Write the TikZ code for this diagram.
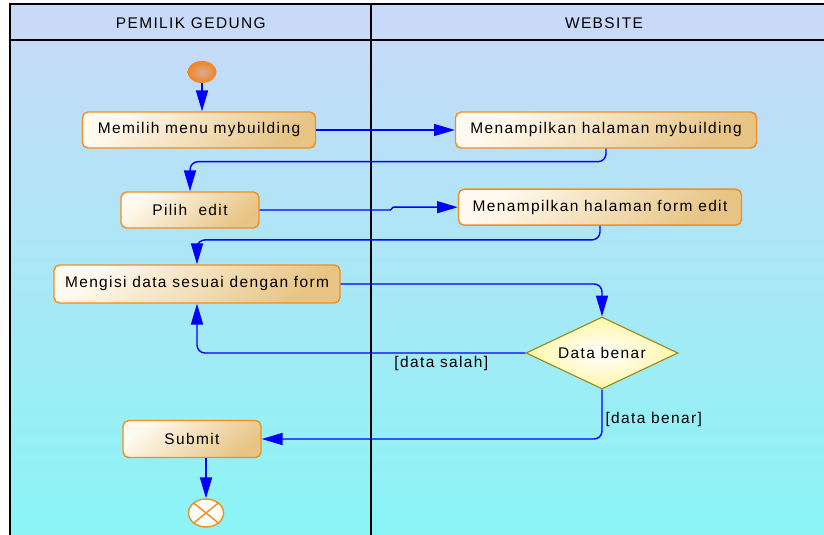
\documentclass[tikz,border=0pt]{standalone}
\usepackage{fontspec}
\setmainfont{Liberation Sans}[LetterSpace=9]
\usepackage{xcolor}
\usepackage{tikz}
\usetikzlibrary{shapes,arrows.meta}
\definecolor{laneHead}{HTML}{C8DAF8}
\definecolor{laneTop}{HTML}{C5DBF7}
\definecolor{laneBottom}{HTML}{8AF5F6}
\definecolor{actBorder}{HTML}{F58D1C}
\definecolor{actLight}{HTML}{FFFAF0}
\definecolor{actDark}{HTML}{E7C484}
\definecolor{startIn}{HTML}{D6AC9C}
\definecolor{startOut}{HTML}{F5841A}
\definecolor{decBorder}{HTML}{9A8A12}
\definecolor{decFill}{HTML}{FFF6A8}
\definecolor{flow}{HTML}{0000FF}
\tikzstyle{action} = [rectangle, draw=actBorder, line width=1pt, rounded corners=4pt,
    top color=actLight, bottom color=actDark, shading angle=40, text centered, minimum height=0.9cm]
\tikzstyle{decision} = [diamond, aspect=2.1, draw=decBorder, line width=0.8pt, inner color=white, outer color=decFill,
    minimum width=3.8cm, minimum height=1.8cm, inner sep=0pt]
\tikzstyle{initial} = [ellipse, inner color=startIn, outer color=startOut, minimum width=0.725cm, minimum height=0.55cm, inner sep=0pt]
\tikzstyle{final} = [ellipse, draw=actBorder, line width=1pt, fill=white, minimum width=0.875cm, minimum height=0.7cm, inner sep=0pt]
\tikzstyle{line} = [draw=flow, line width=1pt, rounded corners=0.2cm, -{Triangle[length=0.52cm, width=0.3cm]}]
\tikzstyle{guard} = [inner sep=2pt]

\begin{document}
\begin{tikzpicture}[node distance = 2cm, font=\fontsize{11}{13}\selectfont]
    \clip (0,0) rectangle (20.6,-13.375);
    % Swimlanes
    \fill [laneHead] (0.25,-0.1) rectangle (21,-1.0);
    \shade [top color=laneTop, bottom color=laneBottom] (0.25,-1.0) rectangle (21,-13.5);
    \draw [line width=1pt] (21,-0.1) -- (0.25,-0.1) -- (0.25,-13.5);
    \draw [line width=1pt] (0.25,-1.0) -- (21,-1.0);
    \draw [line width=1pt] (9.275,-0.1) -- (9.275,-13.5);
    \node (ownerLane) at (4.77,-0.57) {PEMILIK GEDUNG};
    \node (webLane) at (15.1,-0.57) {WEBSITE};

    % Place nodes
    \node [initial] (start) at (5.05,-1.8) {};
    \node [action, below of=start, node distance=1.45cm, xshift=-0.075cm, minimum width=5.825cm] (memilih) {Memilih menu mybuilding};
    \node [action, right of=memilih, node distance=10.175cm, minimum width=7.525cm] (tampilBuilding) {Menampilkan halaman mybuilding};
    \node [action, below of=memilih, node distance=2cm, xshift=-0.225cm, minimum width=3.45cm] (pilih) {Pilih\ \ edit};
    \node [action, right of=pilih, node distance=10.25cm, yshift=0.07cm, minimum width=7.075cm] (tampilForm) {Menampilkan halaman form edit};
    \node [action, below of=pilih, node distance=1.85cm, xshift=0.175cm, minimum width=7.15cm, minimum height=0.95cm] (mengisi) {Mengisi data sesuai dengan form};
    \node [decision, right of=mengisi, node distance=10.125cm, yshift=-1.725cm] (cek) {Data benar};
    \node [action, below of=mengisi, node distance=3.875cm, xshift=-0.125cm, minimum width=3.45cm, minimum height=0.925cm] (submit) {Submit};
    \node [final, below of=submit, node distance=1.85cm, xshift=0.35cm] (end) {};
    \draw [actBorder, line width=1pt] (end.north east) -- (end.south west) (end.north west) -- (end.south east);

    % Draw edges
    \path [line] (start) -- (start |- memilih.north);
    \path [line] (memilih) -- (tampilBuilding);
    \path [line] (tampilBuilding.south) -- ++(0,-0.325) -| (pilih.north);
    \path [line, rounded corners=1pt] (pilih.east) -- ++(3.3,0) |- (tampilForm.west);
    \path [line] (tampilForm.south) -- ++(0,-0.35) -| (mengisi.north);
    \path [line] (mengisi.east) -| (cek.north);
    \path [line] (cek.west) -| node [guard, below, pos=0.128] {[data salah]} (mengisi.south);
    \path [line] (cek.south) |- node [guard, right, pos=0.3] {[data benar]} (submit.east);
    \path [line] (end |- submit.south) -- (end);
\end{tikzpicture}
\end{document}
